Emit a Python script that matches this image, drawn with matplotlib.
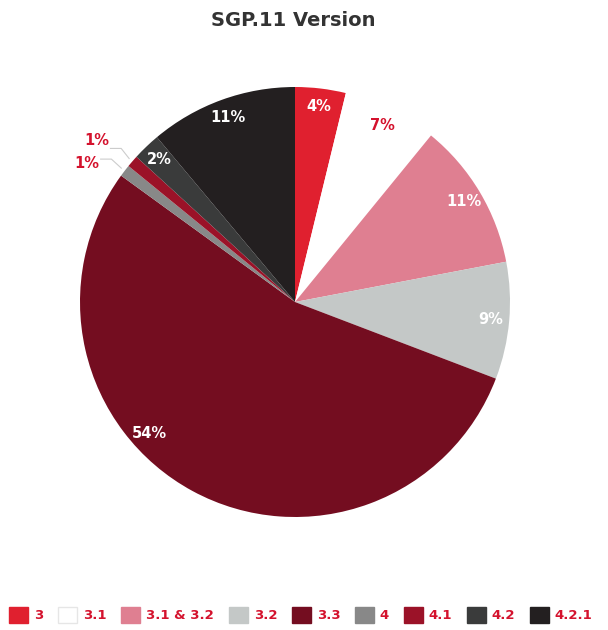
import matplotlib.pyplot as plt
import matplotlib.patches as mpatches
import numpy as np

plt.rcParams['font.family'] = ['DejaVu Sans']

versions = ['3', '3.1', '3.1 & 3.2', '3.2', '3.3', '4', '4.1', '4.2', '4.2.1']
shares = [3.8, 7.1, 11.1, 8.8, 54.2, 0.9, 0.9, 2.1, 11.1]
pct_labels = ['4%', '7%', '11%', '9%', '54%', '1%', '1%', '2%', '11%']
colors = ['#e0202f', '#ffffff', '#df7f91', '#c4c8c7', '#740d20',
          '#888888', '#9b1228', '#3a3b3b', '#231f20']
red = '#d4122d'

fig = plt.figure(figsize=(6.08, 6.3), dpi=100)
ax = fig.add_axes([80/608, 1-517/630, 430/608, 430/630])

wedges, _ = ax.pie(shares, colors=colors, startangle=90, counterclock=False,
                   radius=1, wedgeprops=dict(linewidth=0))
ax.set_xlim(-1, 1)
ax.set_ylim(-1, 1)
ax.set_aspect('equal')
ax.axis('off')

# where in each wedge the label sits (0..1 along the arc), 54% is shifted
pos_frac = [0.5, 0.5, 0.5, 0.5, 0.6, 0.5, 0.5, 0.5, 0.5]
for i, w in enumerate(wedges):
    if i in (5, 6):
        continue
    ang = w.theta2 + (w.theta1 - w.theta2) * pos_frac[i]
    a = np.deg2rad(ang)
    r = 0.915
    tc = red if i == 1 else 'white'
    ax.text(r*np.cos(a), r*np.sin(a), pct_labels[i], ha='center', va='center',
            color=tc, fontsize=10.5, fontweight='bold')

# small slices: outside labels with leader lines
# (wedge index, knee dx, knee dy, text dy)
callouts = [(6, -0.037, 0.047, 0.035), (5, -0.046, 0.042, -0.02)]
for i, kx, ky, ty in callouts:
    w = wedges[i]
    a = np.deg2rad((w.theta1 + w.theta2) / 2)
    x0, y0 = 1.02*np.cos(a), 1.02*np.sin(a)
    xk, yk = x0 + kx, y0 + ky
    xe = xk - 0.05
    ax.plot([x0, xk, xe], [y0, yk, yk], color='#cccccc', lw=0.8, clip_on=False)
    ax.text(xe - 0.005, yk + ty, pct_labels[i], ha='right', va='center',
            color=red, fontsize=10.5, fontweight='bold')

fig.text(0.482, 0.968, 'SGP.11 Version', ha='center', va='center',
         fontsize=14, fontweight='bold', color='#333333')

handles = [mpatches.Patch(facecolor=c, edgecolor='#e6e6e6' if c == '#ffffff' else c,
                          linewidth=1) for c in colors]
leg = fig.legend(handles, versions, loc='center', bbox_to_anchor=(0.495, 0.024),
                 ncol=9, frameon=False, handlelength=1.45, handleheight=1.45,
                 handletextpad=0.45, columnspacing=1.1, borderaxespad=0,
                 prop=dict(weight='bold', size=9.5))
for t in leg.get_texts():
    t.set_color(red)

fig.savefig('out.png', dpi=100)
